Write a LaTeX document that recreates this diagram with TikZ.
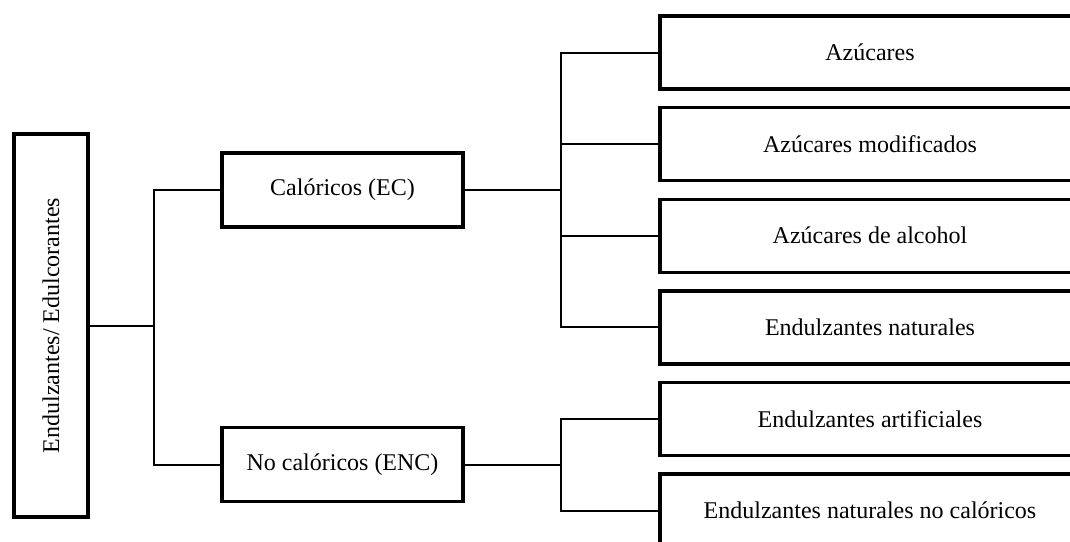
\documentclass[tikz,border=0pt]{standalone}
\usepackage{fontspec}
\setmainfont{Liberation Serif}
\usepackage{tikz}
\usetikzlibrary{positioning}
\tikzstyle{box} = [rectangle, draw, line width=1.7pt, outer sep=0pt, fill=white, text centered, font=\fontsize{12}{14}\selectfont]
\tikzstyle{midbox} = [box, minimum width=120.5pt, minimum height=37pt]
\tikzstyle{leafbox} = [box, minimum width=210pt, minimum height=36.5pt]
\tikzstyle{link} = [line width=1pt]

\begin{document}
\begin{tikzpicture}[x=0.5pt, y=-0.5pt, node distance=9.3pt]
    \clip (0,0) rectangle (1070,541);
    \fill[white] (0,0) rectangle (1070,541);

    \node (root) [box, minimum width=191.5pt, minimum height=37pt, rotate=90] at (51,325.5) {Endulzantes/ Edulcorantes};

    \node (cal) [midbox] at (342.5,190) {Calóricos (EC)};
    \node (enc) [midbox] at (342.5,464.5) {No calóricos (ENC)};

    \node (az) [leafbox] at (870,52.5) {Azúcares};
    \node (mod) [leafbox, below=of az] {Azúcares modificados};
    \node (alc) [leafbox, below=of mod] {Azúcares de alcohol};
    \node (nat) [leafbox, below=of alc] {Endulzantes naturales};
    \node (art) [leafbox, below=of nat] {Endulzantes artificiales};
    \node (nnc) [leafbox, below=of art] {Endulzantes naturales no calóricos};

    \coordinate (bus1) at (154,0);
    \coordinate (bus2) at (561,0);

    \draw [link] (root.south) -- (root.south -| bus1);
    \draw [link] (cal.west) -| (bus1 |- enc.west) -- (enc.west);

    \draw [link] (cal.east) -- (cal.east -| bus2);
    \draw [link] (az.west) -| (bus2 |- nat.west) -- (nat.west);
    \foreach \leaf in {mod, alc}
        \draw [link] (\leaf.west) -- (\leaf.west -| bus2);

    \draw [link] (enc.east) -- (enc.east -| bus2);
    \draw [link] (art.west) -| (bus2 |- nnc.west) -- (nnc.west);
\end{tikzpicture}
\end{document}
